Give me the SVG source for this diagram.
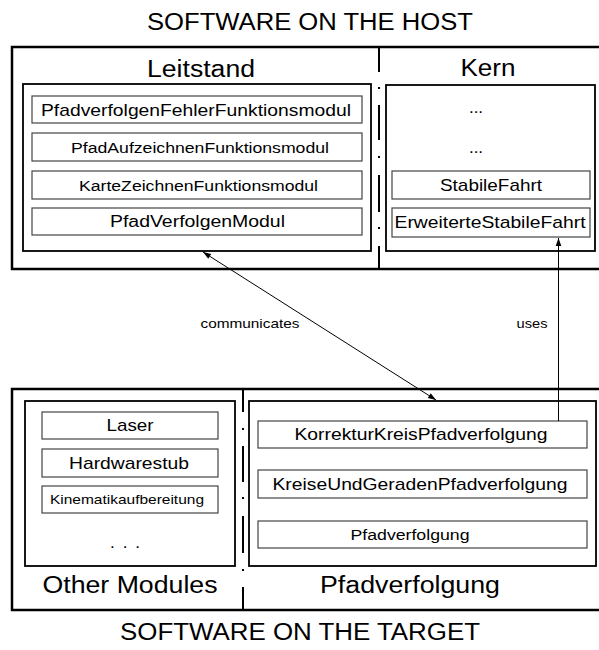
<svg xmlns="http://www.w3.org/2000/svg" width="599" height="650" viewBox="0 0 599 650">
<style>
text{font-family:"Liberation Sans",Arial,sans-serif;fill:#000;text-anchor:middle}
.outer{fill:none;stroke:#000;stroke-width:2.5}
.grp{fill:#fff;stroke:#000;stroke-width:1.8}
.item{fill:#fff;stroke:#444;stroke-width:1.2}
.div{stroke:#000;stroke-width:2;fill:none}
.t{font-size:17px}
.big{font-size:23.5px}
.conn{stroke:#000;stroke-width:1;fill:none}
</style>
<defs>
<marker id="ah" viewBox="0 0 10 10" refX="10" refY="5" markerWidth="10" markerHeight="8" markerUnits="userSpaceOnUse" orient="auto-start-reverse">
<path d="M0,1.5 L10,5 L0,8.5 z" fill="#000"/>
</marker>
</defs>
<rect width="599" height="650" fill="#fff"/>
<text x="310" y="30" font-size="23.5" textLength="326" lengthAdjust="spacingAndGlyphs">SOFTWARE ON THE HOST</text>
<text x="300" y="640" font-size="23.5" textLength="360" lengthAdjust="spacingAndGlyphs">SOFTWARE ON THE TARGET</text>

<g id="host">
<rect class="outer" x="12" y="47" width="600" height="222"/>
<line class="div" x1="379" y1="47" x2="379" y2="72"/>
<line class="div" x1="379" y1="87" x2="379" y2="89"/>
<line class="div" x1="379" y1="105" x2="379" y2="140"/>
<line class="div" x1="379" y1="156" x2="379" y2="158"/>
<line class="div" x1="379" y1="175" x2="379" y2="212"/>
<line class="div" x1="379" y1="227" x2="379" y2="229"/>
<line class="div" x1="379" y1="246" x2="379" y2="269"/>
</g>

<g id="leitstand">
<rect class="grp" x="23" y="84" width="348" height="167"/>
<text class="big" x="201" y="77" textLength="108" lengthAdjust="spacingAndGlyphs">Leitstand</text>
</g>
<g id="pfadverfolgenFehler">
<rect class="item" x="32" y="96" width="330" height="27"/>
<text class="t" x="196" y="115.5" textLength="310" lengthAdjust="spacingAndGlyphs">PfadverfolgenFehlerFunktionsmodul</text>
</g>
<g id="pfadAufzeichnen">
<rect class="item" x="32" y="133" width="330" height="28"/>
<text x="200" y="152.5" font-size="15.5" textLength="258" lengthAdjust="spacingAndGlyphs">PfadAufzeichnenFunktionsmodul</text>
</g>
<g id="karteZeichnen">
<rect class="item" x="32" y="171" width="330" height="28"/>
<text x="198.5" y="190.5" font-size="15.5" textLength="239" lengthAdjust="spacingAndGlyphs">KarteZeichnenFunktionsmodul</text>
</g>
<g id="pfadVerfolgenModul">
<rect class="item" x="32" y="208" width="330" height="27"/>
<text x="197.5" y="227" font-size="16" textLength="175" lengthAdjust="spacingAndGlyphs">PfadVerfolgenModul</text>
</g>

<g id="kern">
<rect class="grp" x="386" y="85" width="209" height="166"/>
<text class="big" x="488" y="76" textLength="55" lengthAdjust="spacingAndGlyphs">Kern</text>
<text class="t" x="476" y="113">...</text>
<text class="t" x="476" y="153">...</text>
</g>
<g id="stabileFahrt">
<rect class="item" x="392" y="171" width="198" height="28"/>
<text class="t" x="491" y="190.5" textLength="102" lengthAdjust="spacingAndGlyphs">StabileFahrt</text>
</g>
<g id="erweiterteStabileFahrt">
<rect class="item" x="392" y="208" width="198" height="29"/>
<text class="t" x="490" y="228" textLength="191" lengthAdjust="spacingAndGlyphs">ErweiterteStabileFahrt</text>
</g>

<g id="target">
<rect class="outer" x="12" y="389" width="600" height="221"/>
<line class="div" x1="243" y1="389" x2="243" y2="412"/>
<line class="div" x1="243" y1="428" x2="243" y2="430"/>
<line class="div" x1="243" y1="446" x2="243" y2="482"/>
<line class="div" x1="243" y1="497" x2="243" y2="499"/>
<line class="div" x1="243" y1="516" x2="243" y2="553"/>
<line class="div" x1="243" y1="569" x2="243" y2="571"/>
<line class="div" x1="243" y1="587" x2="243" y2="610"/>
</g>

<g id="otherModules">
<rect class="grp" x="25" y="401" width="210" height="165"/>
<text class="big" x="130" y="593" textLength="175" lengthAdjust="spacingAndGlyphs">Other Modules</text>
<text class="t" x="125" y="548" textLength="30" lengthAdjust="spacing">. . .</text>
</g>
<g id="laser">
<rect class="item" x="42" y="412" width="176" height="27"/>
<text class="t" x="130" y="431" textLength="47" lengthAdjust="spacingAndGlyphs">Laser</text>
</g>
<g id="hardwarestub">
<rect class="item" x="42" y="449" width="176" height="28"/>
<text class="t" x="129" y="468.5" textLength="120" lengthAdjust="spacingAndGlyphs">Hardwarestub</text>
</g>
<g id="kinematikaufbereitung">
<rect class="item" x="42" y="486" width="176" height="27"/>
<text x="127" y="504" font-size="13.5" textLength="154" lengthAdjust="spacingAndGlyphs">Kinematikaufbereitung</text>
</g>

<g id="pfadverfolgungPkg">
<rect class="grp" x="249" y="401" width="347" height="165"/>
<text class="big" x="410" y="593" textLength="180" lengthAdjust="spacingAndGlyphs">Pfadverfolgung</text>
</g>
<g id="korrekturKreis">
<rect class="item" x="258" y="421" width="329" height="27"/>
<text class="t" x="421" y="440" textLength="253" lengthAdjust="spacingAndGlyphs">KorrekturKreisPfadverfolgung</text>
</g>
<g id="kreiseUndGeraden">
<rect class="item" x="258" y="470" width="329" height="28"/>
<text class="t" x="420" y="489.5" textLength="295" lengthAdjust="spacingAndGlyphs">KreiseUndGeradenPfadverfolgung</text>
</g>
<g id="pfadverfolgung">
<rect class="item" x="258" y="521" width="329" height="27"/>
<text x="410" y="540" font-size="15.5" textLength="119" lengthAdjust="spacingAndGlyphs">Pfadverfolgung</text>
</g>

<g id="connectors">
<line class="conn" x1="203" y1="252" x2="436" y2="400" marker-start="url(#ah)" marker-end="url(#ah)"/>
<line class="conn" x1="558.5" y1="421" x2="558.5" y2="238" marker-end="url(#ah)"/>
<text x="250" y="328" font-size="13.5" textLength="99" lengthAdjust="spacingAndGlyphs">communicates</text>
<text x="532" y="328" font-size="13.5" textLength="31" lengthAdjust="spacingAndGlyphs">uses</text>
</g>
</svg>
